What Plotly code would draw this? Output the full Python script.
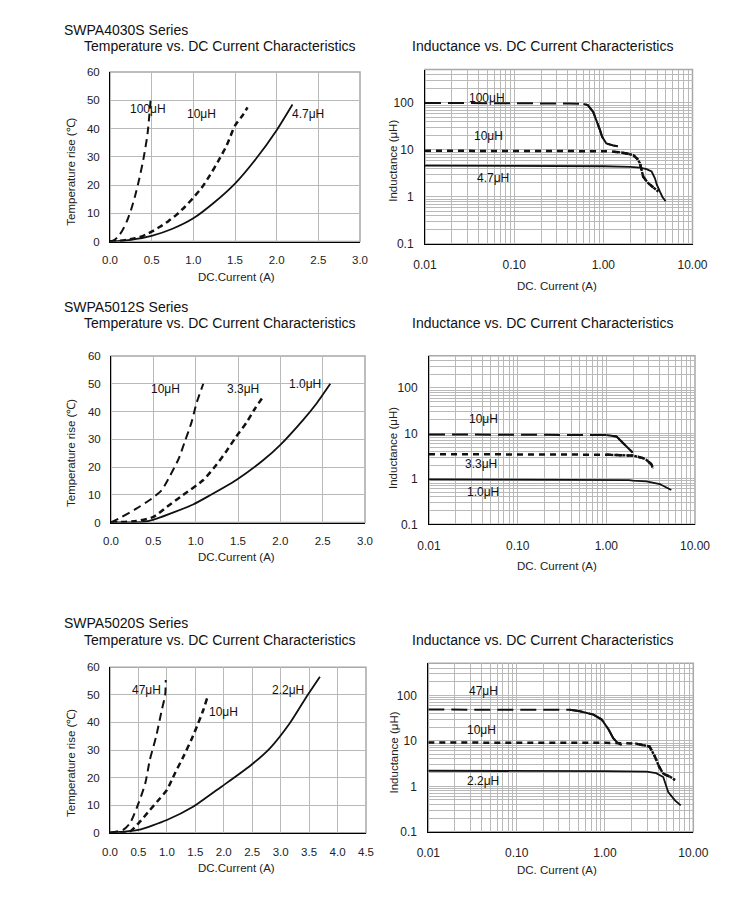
import numpy as np
import plotly.graph_objects as go

W, H = 750, 905

# ---------------- data ----------------
# SWPA4030S  temperature rise vs DC current
s1_I_100 = [0, 0.05, 0.1, 0.15, 0.2, 0.25, 0.3, 0.35, 0.4, 0.45, 0.49]
s1_T_100 = [0, 0.5, 1.8, 4, 7, 11, 16, 22, 29, 38, 51]
s1_I_10 = [0, 0.1, 0.2, 0.3, 0.4, 0.5, 0.6, 0.7, 0.8, 0.9, 1.0, 1.1, 1.2, 1.3, 1.4, 1.5, 1.6, 1.65]
s1_T_10 = [0, 0.2, 0.6, 1.2, 2.0, 3.5, 5.2, 7.2, 9.5, 12.3, 15.5, 19, 23.5, 28.5, 34, 41, 45, 47.5]
s1_I_47 = [0, 0.25, 0.5, 0.75, 1.0, 1.25, 1.5, 1.75, 2.0, 2.19]
s1_T_47 = [0, 0.6, 2.0, 4.5, 8.2, 13.8, 20.5, 29.2, 39.4, 48.5]

# SWPA4030S  inductance vs DC current
s2_I_100 = [0.01, 0.02, 0.05, 0.1, 0.2, 0.4, 0.6, 0.67, 0.77, 0.87, 0.92, 0.97, 1.08, 1.28, 1.45]
s2_L_100 = [100, 100, 99, 99, 98, 97, 95, 90, 64, 36, 26, 19, 13.7, 12.5, 12]
s2_I_10 = [0.01, 0.05, 0.1, 0.5, 1.0, 1.29, 1.6, 2.16, 2.4, 2.57, 2.8, 3.17, 3.6, 4.13]
s2_L_10 = [9.6, 9.6, 9.6, 9.5, 9.4, 9.2, 8.8, 7.8, 6.5, 5.25, 2.7, 1.98, 1.6, 1.31]
s2_I_47 = [0.01, 0.1, 0.5, 1.0, 2.0, 2.57, 3.05, 3.48, 3.79, 3.98, 4.3, 4.6, 5.0]
s2_L_47 = [4.65, 4.6, 4.55, 4.5, 4.35, 4.2, 3.9, 3.47, 2.5, 1.82, 1.31, 1.0, 0.81]

# SWPA5012S  temperature rise vs DC current
s3_I_10 = [0, 0.126, 0.3, 0.48, 0.6, 0.7, 0.8, 0.87, 0.95, 1.01, 1.09]
s3_T_10 = [0, 2, 5, 8.6, 11.7, 17, 23, 29, 36, 43, 50]
s3_I_33 = [0, 0.3, 0.5, 0.66, 0.85, 1.09, 1.25, 1.37, 1.48, 1.6, 1.7, 1.8]
s3_T_33 = [0, 0.5, 2, 5.6, 9.9, 15.3, 21, 26, 31, 36, 41, 45.5]
s3_I_10u = [0, 0.38, 0.54, 0.97, 1.17, 1.48, 1.8, 2.0, 2.27, 2.43, 2.59]
s3_T_10u = [0, 0.2, 1.4, 6.5, 9.8, 15.3, 22.5, 28, 37, 43, 50]

# SWPA5012S  inductance vs DC current
s4_I_10 = [0.01, 0.1, 0.5, 1.0, 1.3, 1.55, 1.77, 1.98]
s4_L_10 = [9.5, 9.5, 9.4, 9.2, 8.6, 6.1, 4.7, 3.8]
s4_I_33 = [0.01, 0.1, 0.5, 1.0, 2.0, 2.6, 2.84, 3.24, 3.35]
s4_L_33 = [3.5, 3.5, 3.45, 3.4, 3.25, 2.86, 2.6, 2.07, 1.66]
s4_I_10u = [0.01, 0.1, 1.0, 1.8, 2.0, 2.84, 4.0, 4.8, 5.4]
s4_L_10u = [0.97, 0.97, 0.96, 0.94, 0.91, 0.88, 0.77, 0.64, 0.57]

# SWPA5020S  temperature rise vs DC current
s5_I_47 = [0, 0.23, 0.35, 0.5, 0.62, 0.7, 0.81, 0.91, 0.97, 0.98]
s5_T_47 = [0, 1, 3.4, 10.6, 17.9, 26.4, 34.8, 44.5, 50, 55.4]
s5_I_10 = [0, 0.35, 0.5, 0.7, 0.88, 1.0, 1.14, 1.29, 1.44, 1.55, 1.64, 1.71]
s5_T_10 = [0, 0.4, 3.4, 8.2, 12.5, 15.5, 21.5, 27.6, 34.2, 39.7, 44.5, 49]
s5_I_22 = [0, 0.5, 1.0, 1.46, 1.96, 2.46, 2.81, 3.16, 3.46, 3.69]
s5_T_22 = [0, 1, 4.6, 9.4, 16.7, 24.2, 30.6, 39.7, 49.5, 56.6]

# SWPA5020S  inductance vs DC current
s6_I_47 = [0.01, 0.1, 0.4, 0.52, 0.74, 0.92, 1.1, 1.24, 1.41, 1.54]
s6_L_47 = [49, 49, 48.5, 45, 38, 29.5, 17.8, 11.5, 8.8, 8.2]
s6_I_10 = [0.01, 0.1, 1.0, 2.2, 2.7, 3.2, 3.68, 4.1, 4.57, 5.4, 6.2]
s6_L_10 = [9.2, 9.2, 9.1, 8.8, 8.2, 7.5, 4.5, 2.7, 1.9, 1.64, 1.38]
s6_I_22 = [0.01, 0.1, 1.0, 2.96, 3.8, 4.57, 5.2, 6.2, 7.2]
s6_L_22 = [2.2, 2.2, 2.15, 2.1, 1.95, 1.6, 0.75, 0.49, 0.38]

series_titles = ["SWPA4030S Series", "SWPA5012S Series", "SWPA5020S Series"]
temp_title = "Temperature vs. DC Current Characteristics"
ind_title = "Inductance vs. DC Current Characteristics"
temp_xlabel = "DC.Current (A)"
temp_ylabel = "Temperature rise (℃)"
ind_xlabel = "DC. Current (A)"
ind_ylabel = "Inductance (μH)"
temp_yticks = [0, 10, 20, 30, 40, 50, 60]
log_xticks = [0.01, 0.1, 1, 10]
log_xtick_text = ["0.01", "0.10", "1.00", "10.00"]
log_yticks = [0.1, 1, 10, 100]
log_ytick_text = ["0.1", "1", "10", "100"]

# ---------------- styles / layout ----------------
FONT = "Arial, Liberation Sans, sans-serif"
GRID = "#b9b9b9"
INK = "#111111"
OFF = 8  # page body margin of the viewer

def px(x):
    return (x - OFF) / W

def py(y):
    return 1 - (y - OFF) / H

# plot boxes in pixels: (x0, x1, y_top, y_bottom)
boxes = [
    (110, 360, 72, 241.5),
    (425, 692.5, 69.5, 244),
    (111, 365, 356, 522.5),
    (429, 695, 355.7, 524.3),
    (110, 366, 667.3, 832.7),
    (428.3, 693.3, 663.3, 831.7),
]
temp_xmax = {1: 3.0, 3: 3.0, 5: 4.5}
LOG_TOP = 2.71

fig = go.Figure()
layout = dict(template="none", width=W, height=H,
              margin=dict(l=0, r=0, t=0, b=0, pad=0, autoexpand=False),
              paper_bgcolor="white", plot_bgcolor="white", showlegend=False,
              font=dict(family=FONT, color="#111", size=11))
annotations = []
shapes = []

def minor_vals(lo_exp, hi_exp, top):
    vals = []
    for e in range(lo_exp, hi_exp + 1):
        for m in range(1, 10):
            v = m * 10 ** e
            if v <= top * 1.0001:
                vals.append(v)
    return vals

for i, (x0, x1, yt, yb) in enumerate(boxes, start=1):
    sx = "" if i == 1 else str(i)
    xa = "xaxis" + sx
    ya = "yaxis" + sx
    dom_x = [px(x0), px(x1)]
    dom_y = [py(yb), py(yt)]
    common = dict(showgrid=True, gridcolor=GRID, gridwidth=1, showline=True,
                  linecolor="#000", linewidth=1, zeroline=False, ticks="",
                  automargin=False,
                  tickfont=dict(family=FONT, size=11.5, color="#222"))
    if i % 2 == 1:
        xmax = temp_xmax[i]
        layout[xa] = dict(domain=dom_x, anchor="y" + sx, range=[0, xmax], dtick=0.5,
                          tick0=0, tickformat=".1f", ticklabelstandoff=8, **common)
        layout[ya] = dict(domain=dom_y, anchor="x" + sx, range=[0, 60], tickvals=temp_yticks,
                          ticklabelstandoff=7, **common)
    else:
        xv = minor_vals(-2, 1, 10)
        xt = [log_xtick_text[log_xticks.index(v)] if v in log_xticks else "" for v in xv]
        yv = minor_vals(-1, 2, 10 ** LOG_TOP)
        yt_txt = [log_ytick_text[log_yticks.index(v)] if v in log_yticks else "" for v in yv]
        c2 = dict(common)
        c2["tickfont"] = dict(family=FONT, size=12, color="#222")
        layout[xa] = dict(domain=dom_x, anchor="y" + sx, type="log", range=[-2, 1],
                          tickvals=xv, ticktext=xt, ticklabelstandoff=10, **c2)
        layout[ya] = dict(domain=dom_y, anchor="x" + sx, type="log", range=[-1, LOG_TOP],
                          tickvals=yv, ticktext=yt_txt, ticklabelstandoff=8, **c2)
    shapes.append(dict(type="rect", xref="x" + sx + " domain", yref="y" + sx + " domain",
                       x0=0, x1=1, y0=0, y1=1, line=dict(color="#a8a8a8", width=1.5),
                       layer="below"))

LONG = dict(temp="8px,5px", ind="16px,7px")
SHORT = dict(temp="6px,4px", ind="6px,5px")

def add(i, xs, ys, style, kind):
    sx = "" if i == 1 else str(i)
    if style == "solid":
        line = dict(color=INK, width=1.8)
    elif style == "long":
        line = dict(color=INK, width=2, dash=LONG[kind])
    else:
        line = dict(color=INK, width=2.5, dash=SHORT[kind])
    if kind == "temp":
        line["shape"] = "spline"
        line["smoothing"] = 0.6
    fig.add_trace(go.Scatter(x=xs, y=ys, mode="lines", line=line, xaxis="x" + sx,
                             yaxis="y" + sx, hoverinfo="skip"))

def knee(i, xs, ys, start, width=2.0, dash="solid"):
    sx = "" if i == 1 else str(i)
    sel = [(a, b) for a, b in zip(xs, ys) if a >= start]
    fig.add_trace(go.Scatter(x=[a for a, _ in sel], y=[b for _, b in sel], mode="lines",
                             line=dict(color=INK, width=width, dash=dash),
                             xaxis="x" + sx, yaxis="y" + sx, hoverinfo="skip"))

# chart 1
add(1, s1_I_100, s1_T_100, "long", "temp")
add(1, s1_I_10, s1_T_10, "short", "temp")
add(1, s1_I_47, s1_T_47, "solid", "temp")
# chart 2
add(2, s2_I_100, s2_L_100, "long", "ind")
knee(2, s2_I_100, s2_L_100, 0.6)
add(2, s2_I_10, s2_L_10, "short", "ind")
knee(2, s2_I_10, s2_L_10, 1.29, 2.4, "3px,1px")
add(2, s2_I_47, s2_L_47, "solid", "ind")
# chart 3
add(3, s3_I_10, s3_T_10, "long", "temp")
add(3, s3_I_33, s3_T_33, "short", "temp")
add(3, s3_I_10u, s3_T_10u, "solid", "temp")
# chart 4
add(4, s4_I_10, s4_L_10, "long", "ind")
knee(4, s4_I_10, s4_L_10, 1.0)
add(4, s4_I_33, s4_L_33, "short", "ind")
knee(4, s4_I_33, s4_L_33, 1.0, 2.4, "3px,1px")
add(4, s4_I_10u, s4_L_10u, "solid", "ind")
# chart 5
add(5, s5_I_47, s5_T_47, "long", "temp")
add(5, s5_I_10, s5_T_10, "short", "temp")
add(5, s5_I_22, s5_T_22, "solid", "temp")
# chart 6
add(6, s6_I_47, s6_L_47, "long", "ind")
knee(6, s6_I_47, s6_L_47, 0.4)
add(6, s6_I_10, s6_L_10, "short", "ind")
knee(6, s6_I_10, s6_L_10, 1.5, 2.4, "3px,1px")
add(6, s6_I_22, s6_L_22, "solid", "ind")

# curve labels (x, y in data units)
curve_labels = [
    (1, "100μH", 0.45, 47), (1, "10μH", 1.1, 45.3), (1, "4.7μH", 2.38, 45.3),
    (2, "100μH", 0.049, 129), (2, "10μH", 0.051, 19.6), (2, "4.7μH", 0.058, 2.5),
    (3, "10μH", 0.64, 48), (3, "3.3μH", 1.56, 48), (3, "1.0μH", 2.29, 50),
    (4, "10μH", 0.041, 20.7), (4, "3.3μH", 0.039, 2.14), (4, "1.0μH", 0.041, 0.52),
    (5, "47μH", 0.64, 51.7), (5, "10μH", 1.99, 43.9), (5, "2.2μH", 3.13, 51.7),
    (6, "47μH", 0.042, 125), (6, "10μH", 0.040, 17.7), (6, "2.2μH", 0.042, 1.28),
]
for i, txt, x, y in curve_labels:
    sx = "" if i == 1 else str(i)
    if i % 2 == 0:
        x, y = np.log10(x), np.log10(y)
    annotations.append(dict(text=txt, x=x, y=y, xref="x" + sx, yref="y" + sx,
                            showarrow=False, font=dict(family=FONT, size=12, color="#111")))

def paper_text(txt, x, y, size, xanchor="left", angle=0, color="#111"):
    annotations.append(dict(text=txt, x=px(x), y=py(y), xref="paper", yref="paper",
                            xanchor=xanchor, yanchor="middle", showarrow=False,
                            textangle=angle, font=dict(family=FONT, size=size, color=color)))

row_title_y = [30, 306.7, 623.3]
row_sub_y = [46, 323.3, 640]
for r in range(3):
    paper_text(series_titles[r], 61.5, row_title_y[r], 14)
    paper_text(temp_title, 81.5, row_sub_y[r], 14)
    paper_text(ind_title, 410, row_sub_y[r], 14)

temp_xt_y = [277.3, 556.7, 868.3]
ind_xt_y = [286.5, 566, 870]
temp_yt_y = [171.7, 453, 763]
ind_yt_y = [160.8, 448, 752.5]
for r in range(3):
    paper_text(temp_xlabel, 236, temp_xt_y[r], 11.5, "center", color="#222")
    paper_text(ind_xlabel, 557, ind_xt_y[r], 11.5, "center", color="#222")
    paper_text(temp_ylabel, 71, temp_yt_y[r], 11.5, "center", -90, color="#222")
    paper_text(ind_ylabel, 393, ind_yt_y[r], 11.5, "center", -90, color="#222")

layout["annotations"] = annotations
layout["shapes"] = shapes
fig.update_layout(**layout)
fig.write_html("out.html")
